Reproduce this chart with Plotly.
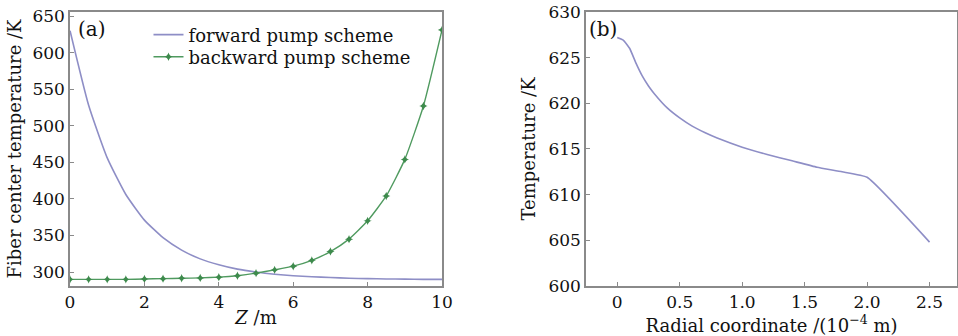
import plotly.graph_objects as go

# Panel (a): fiber center temperature along fiber
z_m = [0, 0.5, 1, 1.5, 2, 2.5, 3, 3.5, 4, 4.5, 5, 5.5, 6, 6.5, 7, 7.5, 8, 8.5, 9, 9.5, 10]
forward_K = [630, 528, 456, 406, 371, 347, 330, 318, 310, 304, 300, 297, 295, 293.5, 292.5,
             291.5, 291, 290.5, 290.3, 290, 290]
backward_K = [290, 290, 290, 290, 290.5, 291, 291.5, 292, 293, 295, 298.5, 303, 308, 316,
              328, 345, 370, 404, 454, 527, 631]

# Panel (b): radial temperature profile
radial = [0, 0.05, 0.1, 0.15, 0.2, 0.25, 0.3, 0.4, 0.5, 0.6, 0.7, 0.8, 1.0, 1.2, 1.4,
          1.6, 1.8, 2.0, 2.5]
radial_K = [627.2, 626.9, 626.0, 624.4, 623.0, 621.9, 621.0, 619.5, 618.4, 617.5, 616.8,
            616.2, 615.2, 614.4, 613.7, 613.0, 612.5, 611.9, 604.8]

xa_ticks = [0, 2, 4, 6, 8, 10]
ya_ticks = [300, 350, 400, 450, 500, 550, 600, 650]
xb_ticks = [0, 0.5, 1.0, 1.5, 2.0, 2.5]
xb_labels = ["0", "0.5", "1.0", "1.5", "2.0", "2.5"]
yb_ticks = [600, 605, 610, 615, 620, 625, 630]

FONT = "DejaVu Serif"
AX = "#8a8a8a"
LAV = "#8e8ec6"
GRN = "#4f9a5f"
TICK = 17
TITLE = 18

fig = go.Figure()
fig.add_trace(go.Scatter(x=z_m, y=forward_K, mode="lines", name="forward pump scheme",
                         line=dict(color=LAV, width=1.6, shape="spline", smoothing=0.5),
                         xaxis="x", yaxis="y", legend="legend"))
fig.add_trace(go.Scatter(x=z_m, y=backward_K, mode="lines+markers", name="backward pump scheme",
                         line=dict(color=GRN, width=1.4, shape="spline", smoothing=0.5),
                         marker=dict(symbol="star-diamond", size=6, color="#3d8a4c"),
                         xaxis="x", yaxis="y", legend="legend2"))
fig.add_trace(go.Scatter(x=radial, y=radial_K, mode="lines", showlegend=False,
                         line=dict(color=LAV, width=1.6, shape="spline", smoothing=0.4),
                         xaxis="x2", yaxis="y2"))

common = dict(showline=True, linecolor=AX, linewidth=1.5, mirror=True, showgrid=False,
              zeroline=False, ticks="inside", ticklen=4, tickcolor=AX, tickwidth=1,
              automargin=False,
              tickfont=dict(family=FONT, size=TICK, color="#111"))

leg = dict(xanchor="left", yanchor="middle", bgcolor="rgba(0,0,0,0)",
           font=dict(family=FONT, size=TITLE), itemwidth=30)

fig.update_layout(
    width=958, height=336, margin=dict(l=0, r=0, t=0, b=0, autoexpand=False),
    paper_bgcolor="white", plot_bgcolor="white",
    font=dict(family=FONT, size=TICK, color="#111"),
    xaxis=dict(domain=[0.0731, 0.4614], range=[0, 10], tickvals=xa_ticks,
               title=dict(text="<i>Z</i> /m", standoff=0, font=dict(family=FONT, size=TITLE)),
               anchor="y", **common),
    yaxis=dict(domain=[0.149, 0.9643], range=[281, 655.5], tickvals=ya_ticks,
               title=dict(text="Fiber center temperature /K", standoff=6,
                          font=dict(family=FONT, size=TITLE)),
               anchor="x", **common),
    xaxis2=dict(domain=[0.6117, 0.999], range=[-0.25, 2.72], tickvals=xb_ticks, ticktext=xb_labels,
                title=dict(text="Radial coordinate /(10<sup>−4</sup> m)", standoff=0,
                           font=dict(family=FONT, size=TITLE)),
                anchor="y2", **common),
    yaxis2=dict(domain=[0.149, 0.9643], range=[600, 630], tickvals=yb_ticks,
                title=dict(text="Temperature /K", standoff=8, font=dict(family=FONT, size=TITLE)),
                anchor="x2", **common),
    legend=dict(x=0.155, y=0.896, **leg),
    legend2=dict(x=0.155, y=0.830, **leg),
    annotations=[
        dict(text="(a)", x=0.0795, y=0.915, xref="paper", yref="paper", showarrow=False,
             xanchor="left", yanchor="middle", font=dict(family=FONT, size=20)),
        dict(text="(b)", x=0.613, y=0.915, xref="paper", yref="paper", showarrow=False,
             xanchor="left", yanchor="middle", font=dict(family=FONT, size=20)),
    ],
)

fig.write_html("out.html", config={"displayModeBar": False},
               post_script="document.body.style.margin='0';")
